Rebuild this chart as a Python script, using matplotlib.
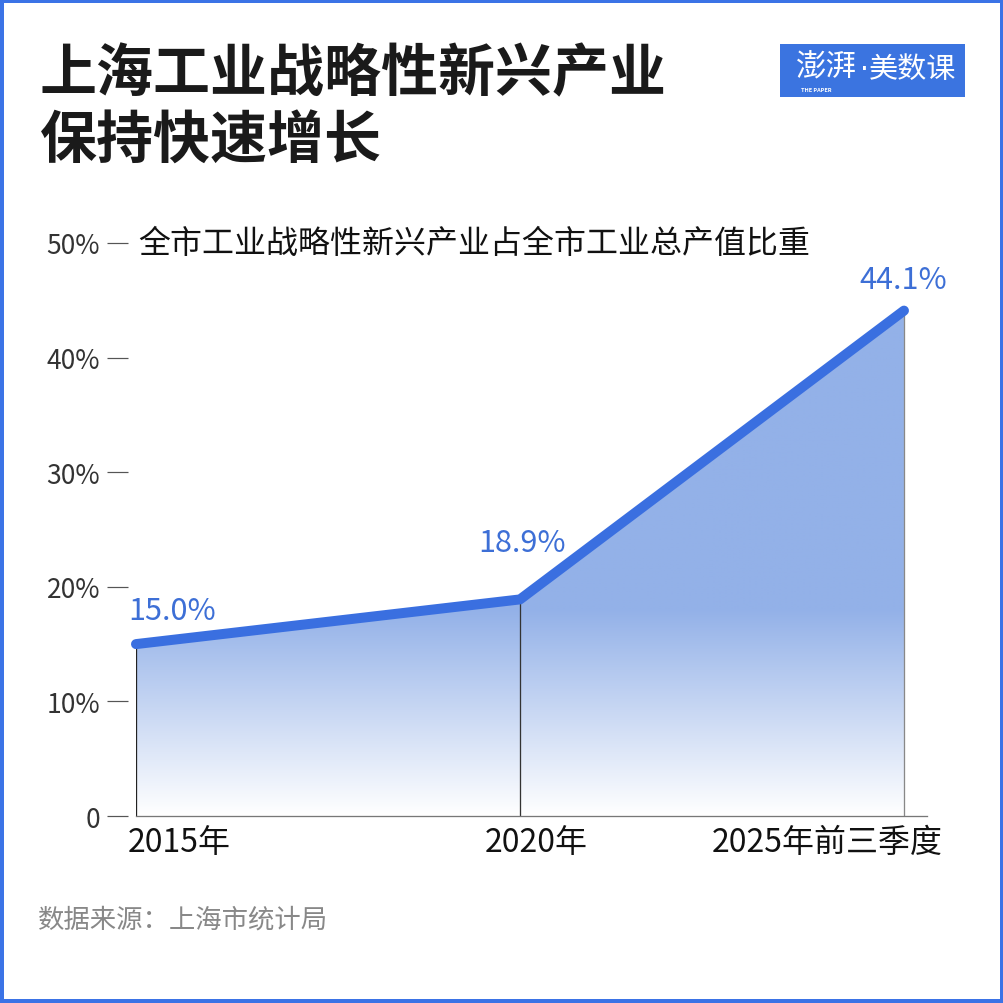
import matplotlib
matplotlib.use("Agg")
import matplotlib.pyplot as plt
import matplotlib.transforms as mtransforms
from matplotlib.patches import Rectangle, Polygon
import numpy as np

plt.rcParams['font.family'] = ['Noto Sans CJK SC', 'DejaVu Sans']

# ---- data ----
categories = ["2015年", "2020年", "2025年前三季度"]
values = [15.0, 18.9, 44.1]
value_labels = ["15.0%", "18.9%", "44.1%"]
y_ticks = [0, 10, 20, 30, 40, 50]
y_tick_labels = ["0", "10%", "20%", "30%", "40%", "50%"]
title = "上海工业战略性新兴产业\n保持快速增长"
subtitle = "全市工业战略性新兴产业占全市工业总产值比重"
source = "数据来源：上海市统计局"

BLUE = "#3a6fe0"
FILL = np.array([0x93, 0xb1, 0xe8]) / 255.0
LABEL_BLUE = "#3d6fd6"

W = H = 1004
DPI = 100
fig = plt.figure(figsize=(W / DPI, H / DPI), dpi=DPI)
fig.patch.set_facecolor("white")

def px(v):
    return v * 72.0 / DPI

# axes placement
ax_left, ax_right, ax_top, ax_bottom = 136, 927, 244, 817
ax = fig.add_axes([ax_left / W, 1 - ax_bottom / H, (ax_right - ax_left) / W, (ax_bottom - ax_top) / H])
ax.patch.set_alpha(0)

x = np.arange(len(values))

# gradient fill
poly_pts = [(x[0], 0)] + list(zip(x, values)) + [(x[-1], 0)]
poly = Polygon(poly_pts, closed=True, facecolor="none", edgecolor="none", transform=ax.transData)
ax.add_patch(poly)
ny = 300
yy = np.linspace(0, 50, ny)
t = np.clip(yy / 18.0, 0, 1)
grad = np.ones((ny, 2, 4))
for c in range(3):
    grad[:, :, c] = (1 - t[:, None]) * 1.0 + t[:, None] * FILL[c]
im = ax.imshow(grad, extent=[x[0], x[-1], 0, 50], origin="lower", aspect="auto", zorder=1, interpolation="bilinear")
im.set_clip_path(poly)
ax.set_xlim(0, 2.06)
ax.set_ylim(0, 50)

# vertical drop lines
drop_colors = ["#222222", "#333333", "#888888"]
for xi, v, c in zip(x, values, drop_colors):
    ax.plot([xi, xi], [0, v], color=c, lw=px(1.3), zorder=2)

# main line
ax.plot(x, values, color=BLUE, lw=px(10), solid_capstyle="round", solid_joinstyle="round", zorder=4, clip_on=False)

# value labels
offsets = [(-8, 34, "left"), (2, 57, "center"), (-1, 31, "center")]
for xi, v, lab, (dx, dy, ha) in zip(x, values, value_labels, offsets):
    ax.annotate(lab, (xi, v), xytext=(px(dx), px(dy)), textcoords="offset points",
                ha=ha, va="center", fontsize=22, color=LABEL_BLUE, zorder=5)

# spines
for s in ["top", "right", "left"]:
    ax.spines[s].set_visible(False)
ax.spines["bottom"].set_color("#777777")
ax.spines["bottom"].set_linewidth(px(1.3))
ax.spines["bottom"].set_zorder(3)

# y ticks
ax.spines["left"].set_position(("outward", px(8)))
ax.set_yticks(y_ticks)
ax.set_yticklabels(y_tick_labels)
ax.tick_params(axis="y", length=px(21), width=px(1.2), color="#555555", pad=px(7),
               labelsize=19, labelcolor="#333333")

# x ticks
ax.set_xticks(x)
ax.set_xticklabels(categories)
ax.tick_params(axis="x", length=0, pad=px(10), labelsize=23, labelcolor="#111111")
x_adj = [("left", -8), ("center", 16), ("right", 39)]
for lab, (ha, dx) in zip(ax.get_xticklabels(), x_adj):
    lab.set_ha(ha)
    lab.set_transform(lab.get_transform() + mtransforms.ScaledTranslation(dx / DPI, 0, fig.dpi_scale_trans))

# title
fig.text(40 / W, 1 - 108 / H, title, fontsize=41, fontweight="heavy", color="#1a1a1a",
         ha="left", va="center", linespacing=1.22)

# subtitle
fig.text(138 / W, 1 - 244 / H, subtitle, fontsize=23, color="#111111", ha="left", va="center")

# source
fig.text(38 / W, 1 - 920 / H, source, fontsize=19, color="#888888", ha="left", va="center")

# logo
logo = Rectangle((780 / W, 1 - 98 / H), 185 / W, 53 / H, transform=fig.transFigure,
                 facecolor="#3b74e0", edgecolor="none")
fig.patches.append(logo)
fig.text(826 / W, 1 - 67 / H, "澎湃", fontsize=22, color="white", ha="center", va="center")
fig.text(864 / W, 1 - 70 / H, "·", fontsize=20, color="white", ha="center", va="center", family="DejaVu Sans")
fig.text(913 / W, 1 - 70 / H, "美数课", fontsize=21, color="white", ha="center", va="center")
fig.text(816 / W, 1 - 91 / H, "THE PAPER", fontsize=4, color="white", ha="center", va="center", fontweight="bold")

# border
border = Rectangle((0, 0), 1, 1, transform=fig.transFigure, facecolor="none",
                   edgecolor="#3b73e6", lw=px(8))
fig.patches.append(border)

fig.savefig("out.png", dpi=DPI)
